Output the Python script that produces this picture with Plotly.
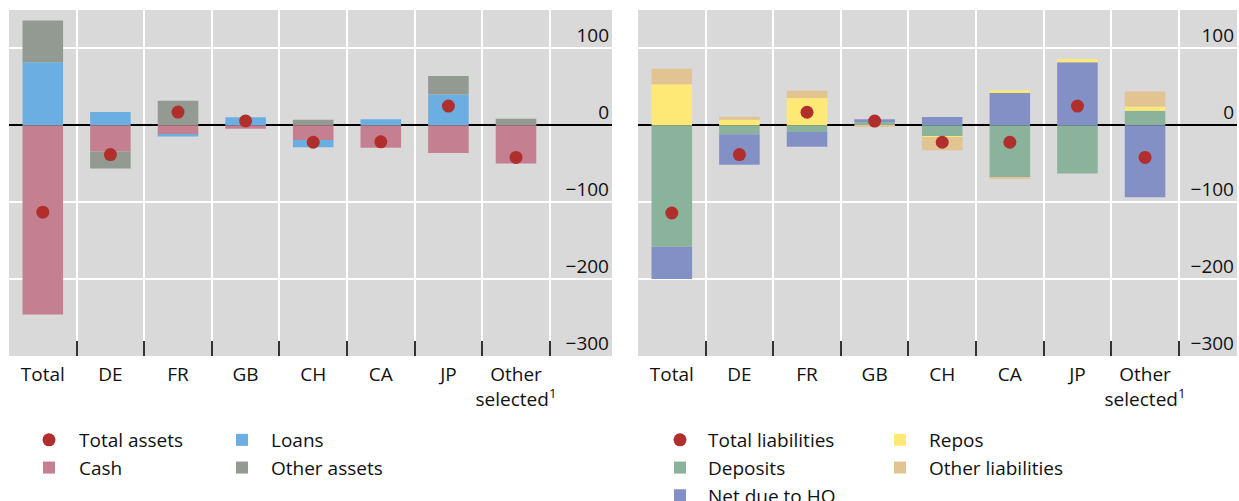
import plotly.graph_objects as go

categories = ["Total", "DE", "FR", "GB", "CH", "CA", "JP", "Other<br>selected<sup>1</sup>"]

# Assets panel
cash = [-246, -34, -12.5, -4.5, -19, -29, -36, -49.5]
loans = [82, 17.3, -2, 10.5, -9.5, 8, 40, 0]
other_assets = [54.5, -22, 32, 0, 7.4, 0, 24, 8.7]
total_assets = [-113, -38, 17.3, 5.7, -22, -21.5, 25, -41.7]

# Liabilities panel
deposits = [-158, -11.7, -8.7, 4.3, -14.3, -67.2, -62.8, 19]
net_due_ho = [-42, -39.7, -19, 3.5, 10.8, 42, 81.9, -93.6]
repos = [53.3, 7.4, 35.5, 0, -1, 3.5, 4.3, 5.6]
other_liabilities = [20.4, 3.9, 9.5, -1, -17, -2.1, 0, 19.5]
total_liabilities = [-114, -38, 17, 5.6, -22, -22, 25, -41.7]

FONT = "Open Sans"
C_CASH = "#C48090"
C_LOANS = "#6AAEE2"
C_OTHA = "#939A92"
C_DOT = "#B02F2C"
C_DEP = "#8BB29A"
C_NET = "#8390C6"
C_REPO = "#FFE976"
C_OTHL = "#E2C392"

BW = 0.6

bars = []
scatters = []


def bar(name, y, color, xa, ya, legend, rank):
    bars.append(go.Bar(x=categories, y=y, name=name, marker=dict(color=color, line=dict(width=0)),
                       width=BW, xaxis=xa, yaxis=ya, legend=legend, legendrank=rank))


def dots(name, y, xa, ya, legend, rank):
    scatters.append(go.Scatter(x=categories, y=y, name=name, mode="markers",
                               marker=dict(color=C_DOT, size=13), xaxis=xa, yaxis=ya,
                               legend=legend, legendrank=rank))

# left panel
dots("Total assets", total_assets, "x", "y", "legend", 1)
bar("Cash", cash, C_CASH, "x", "y", "legend", 2)
bar("Loans", loans, C_LOANS, "x", "y", "legend2", 3)
bar("Other assets", other_assets, C_OTHA, "x", "y", "legend2", 4)
# right panel
dots("Total liabilities", total_liabilities, "x2", "y2", "legend3", 1)
bar("Deposits", deposits, C_DEP, "x2", "y2", "legend3", 2)
bar("Net due to HO", net_due_ho, C_NET, "x2", "y2", "legend3", 3)
bar("Repos", repos, C_REPO, "x2", "y2", "legend4", 4)
bar("Other liabilities", other_liabilities, C_OTHL, "x2", "y2", "legend4", 5)

# dots drawn on top of the bars
fig = go.Figure(data=bars + scatters)

W, H = 1239, 501


def px_x(p):
    return p / W


def px_y(p):
    return 1 - p / H

xcommon = dict(type="category", tickson="boundaries", ticks="inside", ticklen=15, tickwidth=2,
               tickcolor="#333333", showgrid=True, gridcolor="white", gridwidth=1.5, tickangle=0,
               ticklabelstandoff=5,
               tickfont=dict(family=FONT, size=19, color="#111111"), showline=False, zeroline=False,
               automargin=False, fixedrange=True)
ycommon = dict(range=[-300, 150], tickvals=[-300, -200, -100, 0, 100],
               ticktext=["−300", "−200", "−100", "0", "100"], side="right",
               ticklabelposition="inside", ticklabelshift=-13, ticklabelstandoff=0, ticks="",
               showgrid=True, gridcolor="white", gridwidth=1.5, zeroline=True, zerolinecolor="black",
               zerolinewidth=1.5, tickfont=dict(family=FONT, size=19, color="#111111"),
               showline=False, automargin=False, fixedrange=True)

leg = dict(orientation="v", font=dict(family=FONT, size=19, color="#111111"), bgcolor="rgba(0,0,0,0)",
           yanchor="top", xanchor="left", tracegroupgap=0, traceorder="normal")

LY = 421
fig.update_layout(
    width=W, height=H, margin=dict(l=0, r=0, t=0, b=0, autoexpand=False),
    paper_bgcolor="white", plot_bgcolor="#D9D9D9",
    barmode="relative", bargap=0.4,
    xaxis=dict(domain=[px_x(9), px_x(612)], range=[-0.5, 8.42], anchor="y", **xcommon),
    yaxis=dict(domain=[px_y(356), px_y(10)], anchor="x", **ycommon),
    xaxis2=dict(domain=[px_x(638), px_x(1237)], range=[-0.5, 8.36], anchor="y2", **xcommon),
    yaxis2=dict(domain=[px_y(356), px_y(10)], anchor="x2", **ycommon),
    legend=dict(x=px_x(19), y=px_y(LY), itemwidth=50, **leg),
    legend2=dict(x=px_x(213), y=px_y(LY), itemwidth=48, **leg),
    legend3=dict(x=px_x(652), y=px_y(LY), itemwidth=46, **leg),
    legend4=dict(x=px_x(871), y=px_y(LY), itemwidth=48, **leg),
    showlegend=True,
)

# place the figure at the very top-left corner of the page, without scrollbars
fig.write_html("out.html", config={"displayModeBar": False},
               post_script="document.body.style.margin='0';document.body.style.overflow='hidden';")
